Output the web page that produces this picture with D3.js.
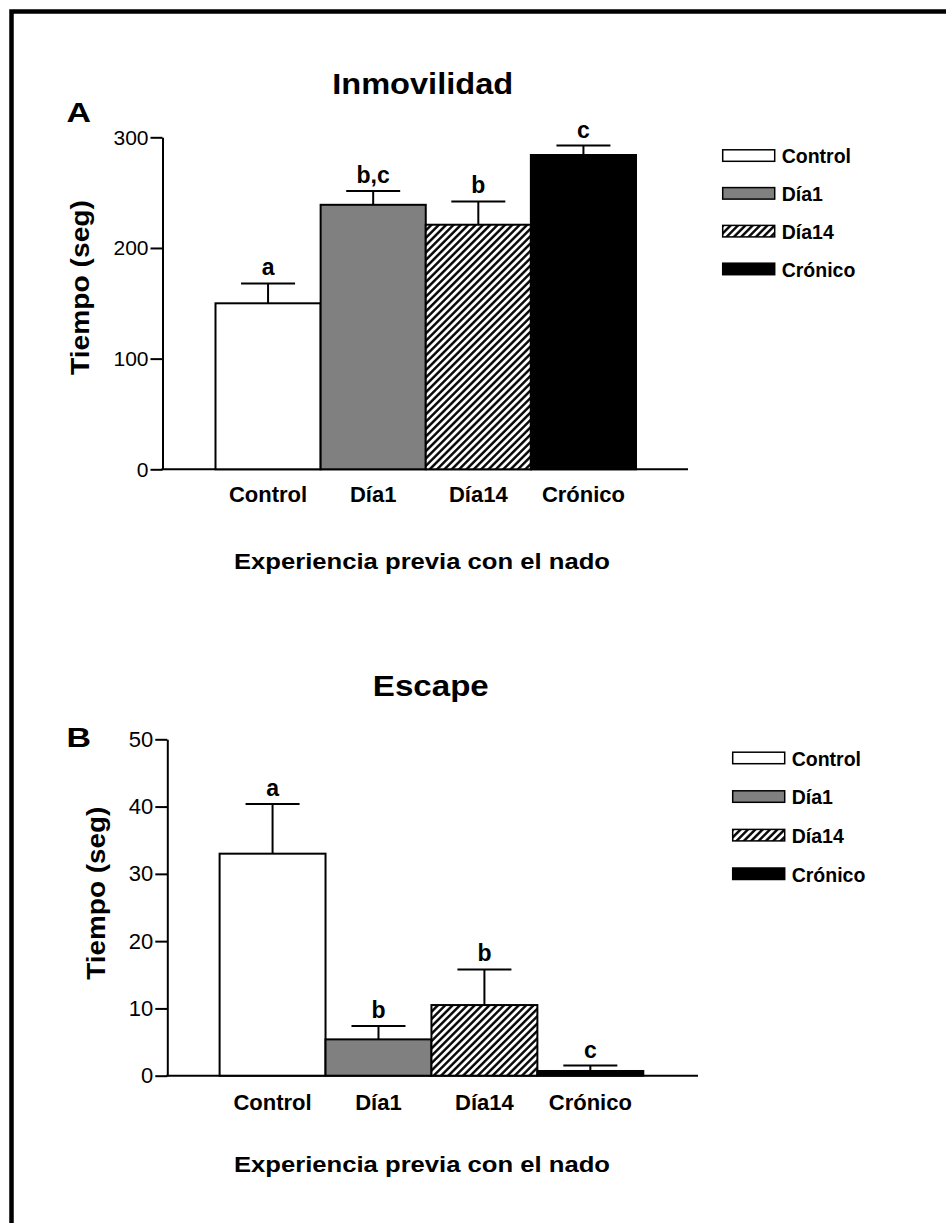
<!DOCTYPE html>
<html>
<head>
<meta charset="utf-8">
<script src="https://cdn.jsdelivr.net/npm/d3@7"></script>
<style>
  body { margin: 0; background: #fff; }
  svg { display: block; font-family: "Liberation Sans", Arial, sans-serif; }
</style>
</head>
<body>
<svg id="chart" width="946" height="1223"></svg>
<script>
// data
const categories = ['Control', 'Día1', 'Día14', 'Crónico'];
const inmovMeans = [150, 239, 221, 284];
const inmovErr = [18, 12.5, 21, 8.5];
const inmovLetters = ['a', 'b,c', 'b', 'c'];
const inmovTicks = [0, 100, 200, 300];

const escapeMeans = [33, 5.4, 10.5, 0.7];
const escapeErr = [7.4, 2.0, 5.3, 0.8];
const escapeLetters = ['a', 'b', 'b', 'c'];
const escapeTicks = [0, 10, 20, 30, 40, 50];

const fills = ['#ffffff', '#808080', 'url(#hatch)', '#000000'];

const svg = d3.select('#chart');

const defs = svg.append('defs');
const hatch = defs.append('pattern')
    .attr('id', 'hatch')
    .attr('patternUnits', 'userSpaceOnUse')
    .attr('width', 5.2)
    .attr('height', 5.2)
    .attr('patternTransform', 'rotate(45)');
hatch.append('rect').attr('width', 5.2).attr('height', 5.2).attr('fill', '#fff');
hatch.append('line')
    .attr('x1', 1.3).attr('y1', 0).attr('x2', 1.3).attr('y2', 5.2)
    .attr('stroke', '#000').attr('stroke-width', 2.4);

// frame (cropped on the right and bottom)
svg.append('path')
    .attr('d', 'M11.5,1223V11.5H946')
    .attr('fill', 'none')
    .attr('stroke', '#000')
    .attr('stroke-width', 4.5);

function drawPanel(p) {
    const g = svg.append('g');

    const y = d3.scaleLinear().domain(p.domain).range([p.y0, p.y1]);
    const x = d3.scaleBand().domain(categories).range([p.barStart, p.barEnd]).padding(0);

    // y axis
    const ax = g.append('g')
        .attr('transform', `translate(${p.axisX},0)`)
        .call(d3.axisLeft(y).tickValues(p.ticks).tickSize(12).tickSizeOuter(0).tickPadding(2));
    ax.select('.domain').attr('stroke-width', 2);
    ax.selectAll('.tick line').attr('stroke-width', 2);
    ax.selectAll('.tick text')
        .attr('font-size', p.tickFont)
        .attr('font-family', '"Liberation Sans", Arial, sans-serif')
        .attr('fill', '#000');

    // x axis line
    g.append('line')
        .attr('x1', p.axisX - 1).attr('x2', p.axisEnd)
        .attr('y1', y(0)).attr('y2', y(0))
        .attr('stroke', '#000').attr('stroke-width', 2);

    // bars
    g.selectAll('.bar')
        .data(p.means)
        .enter().append('rect')
        .attr('class', 'bar')
        .attr('x', (d, i) => x(categories[i]))
        .attr('y', d => y(d))
        .attr('width', x.bandwidth())
        .attr('height', d => y(0) - y(d))
        .attr('fill', (d, i) => fills[i])
        .attr('stroke', '#000')
        .attr('stroke-width', 2);

    // error bars, letters and category names
    const cap = 54;
    p.means.forEach((m, i) => {
        const cx = x(categories[i]) + x.bandwidth() / 2;
        g.append('line')
            .attr('x1', cx).attr('x2', cx)
            .attr('y1', y(m)).attr('y2', y(m + p.errs[i]))
            .attr('stroke', '#000').attr('stroke-width', 2);
        g.append('line')
            .attr('x1', cx - cap / 2).attr('x2', cx + cap / 2)
            .attr('y1', y(m + p.errs[i])).attr('y2', y(m + p.errs[i]))
            .attr('stroke', '#000').attr('stroke-width', 2);
        g.append('text')
            .attr('x', cx)
            .attr('y', y(m + p.errs[i]) - 8)
            .attr('text-anchor', 'middle')
            .attr('font-size', 23)
            .attr('font-weight', 'bold')
            .text(p.letters[i]);
        g.append('text')
            .attr('x', cx)
            .attr('y', p.catY)
            .attr('text-anchor', 'middle')
            .attr('font-size', 22)
            .attr('font-weight', 'bold')
            .text(categories[i]);
    });

    // titles
    g.append('text')
        .attr('x', p.titleX - p.titleW / 2).attr('y', p.titleY)
        .attr('font-size', 30).attr('font-weight', 'bold')
        .attr('textLength', p.titleW).attr('lengthAdjust', 'spacingAndGlyphs')
        .text(p.title);

    g.append('text')
        .attr('x', 66.5).attr('y', p.letterY)
        .attr('font-size', 28).attr('font-weight', 'bold')
        .attr('textLength', 24.5).attr('lengthAdjust', 'spacingAndGlyphs')
        .text(p.panel);

    g.append('text')
        .attr('transform', `translate(${p.yLabelX},${p.yLabelY + p.yLabelLen}) rotate(-90)`)
        .attr('font-size', 25).attr('font-weight', 'bold')
        .attr('textLength', p.yLabelLen).attr('lengthAdjust', 'spacingAndGlyphs')
        .text('Tiempo (seg)');

    g.append('text')
        .attr('x', 422 - 188).attr('y', p.xLabelY)
        .attr('font-size', 22).attr('font-weight', 'bold')
        .attr('textLength', 376).attr('lengthAdjust', 'spacingAndGlyphs')
        .text('Experiencia previa con el nado');

    // legend
    const lg = g.selectAll('.legend')
        .data(categories)
        .enter().append('g')
        .attr('transform', (d, i) => `translate(${p.legX},${p.legY + i * p.legStep})`);
    lg.append('rect')
        .attr('x', 0).attr('y', -13.5)
        .attr('width', 52).attr('height', 11.5)
        .attr('fill', (d, i) => fills[i])
        .attr('stroke', '#000').attr('stroke-width', 1.5);
    lg.append('text')
        .attr('x', 59).attr('y', 0)
        .attr('font-size', 19.5).attr('font-weight', 'bold')
        .text(d => d);
}

drawPanel({
    means: inmovMeans, errs: inmovErr, letters: inmovLetters, ticks: inmovTicks,
    domain: [0, 300], y0: 469.3, y1: 137.3,
    axisX: 162.5, axisEnd: 688, barStart: 215.5, barEnd: 636,
    tickFont: 21, catY: 501.7,
    title: 'Inmovilidad', titleX: 422.7, titleY: 93.5, titleW: 181,
    panel: 'A', letterY: 121.7,
    yLabelX: 89, yLabelY: 200, yLabelLen: 175,
    xLabelY: 568.5,
    legX: 722.7, legY: 163.3, legStep: 37.8
});

drawPanel({
    means: escapeMeans, errs: escapeErr, letters: escapeLetters, ticks: escapeTicks,
    domain: [0, 50], y0: 1075.7, y1: 739.3,
    axisX: 167.3, axisEnd: 698, barStart: 219.6, barEnd: 643.3,
    tickFont: 22, catY: 1110,
    title: 'Escape', titleX: 430.8, titleY: 696, titleW: 116,
    panel: 'B', letterY: 746.7,
    yLabelX: 105, yLabelY: 806.7, yLabelLen: 173,
    xLabelY: 1172,
    legX: 732.7, legY: 765.7, legStep: 38.6
});
</script>
</body>
</html>
